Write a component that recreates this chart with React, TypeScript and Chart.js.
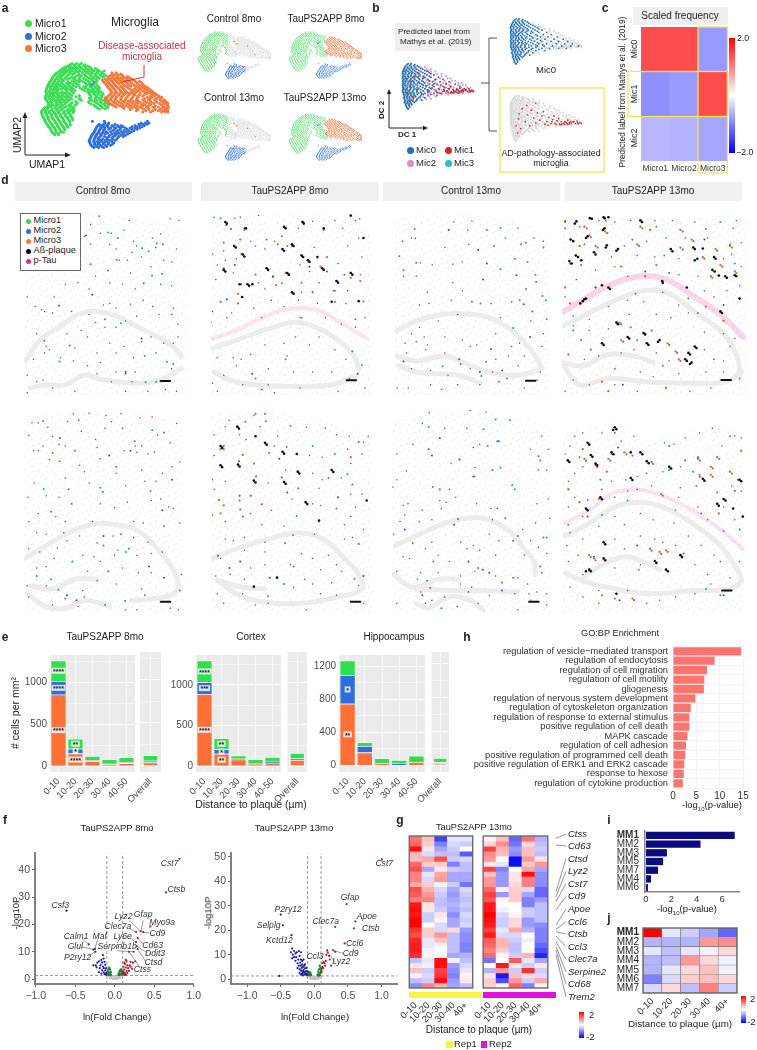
import React, { useEffect, useRef } from 'react';
import { Chart, registerables } from 'chart.js';

Chart.register(...registerables);
const FONT = '"Liberation Sans", Arial, sans-serif';
Chart.defaults.font.family = FONT;

/* ---------- panel a: UMAP embedding, rows are [y, x, x, ...] ---------- */
const micro1Rows = [
  [30,135,150,165],[38,120,130,145,158,172,185],[46,105,115,128,140,152,165,180,195,210],
  [54,95,108,120,135,148,160,176,190,205,222,238],[62,85,100,112,130,142,170,186,200,215,232],
  [70,78,92,104,120,150,165,178,195,210,228,242],[78,72,85,98,112,128,140,158,172,190,205,222],
  [86,68,80,95,108,135,150,165,185,200,215],[94,62,75,88,102,118,130,148,178,192,212],
  [102,58,70,85,98,112,125,140,158,180,200,215],[110,55,68,82,92,108,120,135,160,178,198,210,222],
  [118,52,65,78,90,118,132,145,175,192,205,220],[126,55,68,80,95,110,125,140,190,205,218,232],
  [134,52,65,78,92,105,120,135,158,195,212,228],[142,50,62,75,90,102,118,130,160,190,208,222,240],
  [150,55,70,85,98,112,125,165,198,215,232,248],[158,60,72,88,100,115,135,152,190,212,228,244],
  [166,62,75,90,105,125,145,205,225,240,252],[174,48,60,80,95,110,128,140,215,232,248],
  [182,40,52,68,85,100,118,132,142],[190,38,50,62,78,92,108,122,138],[198,40,55,70,85,100,115,130],
  [206,44,58,72,88,104,120,135],[214,48,62,78,92,108,125,138],[222,52,66,82,98,112,128],
  [230,58,72,88,102,118,130],[238,62,78,92,108,122],[246,68,82,96,112],[254,72,85,98,108],[262,80,92],
  [34,128,142,158,176],[42,112,125,136,150,162,178,192],[50,100,112,124,134,146,158,172,186,200,216],
  [58,90,104,116,128,142,154,168,182,198,214,230],[66,82,96,108,124,138,158,176,192,208,224,238],
  [74,74,88,100,116,134,146,160,184,200,216,234],[82,70,82,92,104,120,144,158,178,196,212],
  [90,64,78,90,102,124,142,158,172,190,208],[98,60,72,82,94,108,124,138,152,186,204],
  [106,56,66,78,88,104,116,130,148,172,192,208,220],[114,54,66,76,86,100,114,128,140,168,186,202,216],
  [122,52,62,74,86,104,118,136,184,198,212,226],[130,54,64,74,88,102,116,130,190,206,220,234],
  [138,50,60,72,84,98,112,126,148,196,214,230],[146,52,64,78,92,106,120,134,158,194,210,228,244],
  [154,56,68,82,94,108,122,146,188,206,224,240],[162,60,70,84,98,112,130,150,196,218,236,250],
  [170,56,68,84,100,116,134,210,228,244],[178,44,56,72,88,104,122,138,222,240],
  [186,38,50,62,76,92,110,126,140],[194,40,54,68,82,96,112,128],[202,42,56,70,84,98,114,130],
  [210,46,60,74,90,106,122,136],[218,50,64,80,96,110,128],[226,54,70,86,100,116],[234,60,74,90,106,120],
  [242,66,80,94,110],[250,70,84,100],[258,76,90],
];
const micro3Rows = [
  [60,262,275],[68,258,270,282,295],[76,250,262,276,290,305,318],[84,232,245,258,272,286,298,312,330],
  [92,238,250,265,280,292,308,322,340,355],[100,245,258,272,300,315,332,348,362],
  [108,250,265,280,295,312,345,360,375],[116,258,272,288,302,325,340,355,372,385],
  [124,262,278,295,310,322,338,368,382,395],[132,255,270,285,300,318,335,350,365,392,405],
  [140,245,262,275,292,310,328,345,375,390,410,420],[148,240,255,272,290,305,322,340,360,378,398,415,428],
  [156,250,268,285,302,320,338,352,372,388,405,425,436],[164,262,280,298,316,335,355,368,385,420,438],
  [172,275,295,315,332,350,372,392,410,428,442],[180,320,345,365,380,400,415,430,440],[188,360,385,420,432,440],
  [64,264,278,290],[72,252,266,280,298,312],[80,240,254,268,282,296,310,324],[88,234,248,262,276,290,304,318,336,350],
  [96,242,254,268,284,296,312,326,344,358],[104,248,262,276,290,306,322,338,354,368],[112,254,268,284,298,318,334,350,366,380],
  [120,260,274,290,306,330,346,362,376,390],[128,258,272,288,304,316,330,352,374,388,400],
  [136,250,264,280,296,312,330,344,360,384,398,412],[144,242,258,274,290,306,324,342,366,384,404,418],
  [152,246,262,278,296,314,330,346,366,384,402,420,432],[160,256,274,292,310,328,344,362,380,396,414,430,440],
  [168,268,288,306,324,342,360,378,400,424,440],[176,300,324,340,358,378,398,420,436],[184,340,370,392,410,426,438],
];
const micro2Rows = [
  [218,200,238,375],[224,240,252,355,368,380],[232,218,230,245,262,280,292,335,350,365],
  [240,212,228,240,258,275,290,305,320,335,350],[248,208,222,235,265,282,300,315,332],
  [256,204,218,232,248,270,285,300,318],[264,198,212,228,255,272,290,305],[272,194,208,220,245,262,280],
  [280,190,205,225,240,255,272],[288,192,208,222,238,252,268],[296,196,210,225,242,258],[304,205,220,236],
  [228,222,236,250,272,348,360,374],[236,214,226,236,250,268,284,298,326,342,358],[244,210,224,238,252,270,288,310,326,342],
  [252,206,220,234,244,258,276,292,308,324],[260,200,214,226,240,262,278,296,312],[268,196,210,224,238,252,268,284,298],
  [276,192,206,218,232,248,264,278],[284,190,204,216,230,246,262],[292,194,206,218,234,250,264],[300,200,214,230,246],
];
const ctrlMicro3Spots = [237,86,255,100,313,115,355,165];
const strayBlue = [205,90,200,96,195,100];

/* ---------- panel b: diffusion map ---------- */
const mic0Rows = [
  [45,130,140],[52,122,135,148,160],[60,118,130,142,155,172],[68,115,125,138,150,165,185],
  [76,112,122,135,145,160,178,200],[84,115,128,140,155,170,192,215],[92,112,122,132,145,160,185,205,230],
  [100,115,125,138,152,168,195,220,245],[108,112,122,132,148,165,180,210,235,265],
  [116,115,128,140,155,175,200,225,255,285],[124,112,122,135,150,170,190,215,245,270,300],
  [132,115,125,138,152,165,185,205,230,262,290,315],[140,112,122,132,145,160,180,200,222,250,280,310,335],
  [148,115,125,138,150,165,185,215,240,270,295],[156,118,128,140,152,172,195,225],
  [164,115,125,135,148,165,185],[172,120,130,142,158,175],[180,118,128,138,150],[188,122,132,142],[196,125,135],[203,130],
  [48,126,138,152],[56,120,128,140,152,166],[64,116,124,134,146,158,178],[72,113,120,130,142,155,172,192],
  [80,112,122,132,142,152,166,185,205],[88,113,120,130,138,150,165,180,200],[96,112,120,128,140,150,165,178],
  [104,113,120,128,136,145,158,175,200],[112,113,120,130,138,150,162,185],[120,112,120,128,136,146,160,180,210],
  [128,113,120,128,140,148,160,178,200],[136,113,120,128,136,148,158,172,195,218],[144,113,120,128,136,145,158,172,195],
  [152,115,122,130,138,148,160,180,205],[160,118,126,134,144,155,170],[168,118,128,136,146,160],[176,120,128,136,146,155],
  [184,122,130,140],[192,124,134],[200,128],
];
const mic1Pts = [340,140,332,138,325,142,318,137,312,141,305,138,298,142,290,136,285,141,278,135,272,143,265,132,258,140,250,128,245,142,238,120,232,135,225,145,215,115,208,130,200,105,195,140,188,122,180,95,175,150,168,112,160,135,150,90,145,160,138,125,130,150,135,175,165,78,195,70,140,108,220,100,255,115,270,125,300,130,310,135,330,133,345,140,280,145,295,137,305,143,262,145,248,135,235,148,335,143,320,135,300,145,290,144,275,146];
const mic2Rows = [
  [52,125],[60,150],[68,146,170],[56,170,185],[64,190,205],[72,205,220],[80,225,240,165],[88,170,240,255],[96,190,235,260,270],
  [104,130,190,215,250,275,285],[112,195,220,245,270,295,305],[120,155,195,230,265,295,310,320],[128,120,210,235,255,280,305,325,335],
  [136,190,215,240,265,290,320,340],[144,205,230,255,285,310,330,345],[148,160,200,228,255,280,310],[152,195,215,240,262],
  [160,180,200,220],[168,140,170,190,205],
];
const mic3Pts = [118,80,128,120,142,145,155,90,170,70,135,185,150,130,200,115,220,140,122,155,134,60,118,104,146,118,128,172];

/* ---------- panel c ---------- */
const scaledFreqCols = ['Micro1','Micro2','Micro3'];
const scaledFreq = [[1.4,1.4,-0.8],[-0.88,-0.8,1.4],[-0.56,-0.6,-0.7]];

/* ---------- panel d: spatial sections ---------- */
const r1c1Top = [60,150,85,125,200,112,330,110,470,125,570,170];
const r1c1Arch = [65,565,110,500,170,460,230,420,290,410,350,425,420,460,480,490,530,520,555,550];
const r1c1Low = [80,650,130,640,190,640,250,610,310,625,420,635,490,625,555,590];
const r1c1Green = [297,112,325,163,356,180,452,222,432,212,478,197,497,200,437,322,495,292,463,298,270,262,325,282,352,248,235,267,124,502,172,567,204,517,315,435,365,447,443,632,380,605,510,568,440,550,530,575,476,630,525,420];
const r1c1Blue = [255,172,275,358,170,392,430,495,380,600];
const r1c1Dim = [392,125,520,120,548,125,270,138,300,165,335,165,375,155,250,175,465,180,490,168,405,190,415,205,475,210,400,225,350,215,330,200,270,200,210,160,180,180,150,190,360,250,385,250,430,240,500,250,525,255,540,215,460,270,395,290,525,330,490,325,410,340,370,325,330,320,285,300,265,340,230,320,190,325,155,365,115,405,70,365,100,480,95,395,125,410,150,415,210,410,265,420,310,390,330,385,350,400,395,388,435,375,465,395,485,420,530,400,415,425,380,440,350,460,315,460,285,445,260,490,220,525,195,480,240,470,290,540,330,510,300,570,260,580,215,565,175,555,140,530,125,540,90,560,70,610,100,630,120,625,130,520,350,540,405,555,375,520,430,505,460,490,475,540,500,510,530,510,545,450,545,490,290,605,335,630,400,630,410,600,350,600,490,630,525,590,505,655,540,660,450,660,380,660,220,660,150,650,70,665];

const r1c2Top = [620,125,700,110,900,110,1050,115,1130,180];
const r1c2Arch = [625,525,700,500,800,465,880,445,950,460,1020,500,1070,550,1085,590];
const r1c2Low = [630,600,680,625,760,640,880,645,1000,640,1080,610];
const r1c2Tau = [625,495,700,470,770,435,850,405,950,405,1020,440,1110,495];
const r1c2Black = [693,205,720,232,795,275,735,325,750,325,710,325,875,350,860,290,875,200,845,215,905,235,925,250,955,240,970,275,1015,315,1060,290,1085,378,1100,180,850,145,908,130,975,150,1060,110,665,130,730,150,660,280,718,365,1000,380,698,210,725,238,800,280,740,330,880,355,865,295,880,205,850,220,910,240,930,255,975,280,1020,320,1065,295,855,150,912,135,670,135,665,285];
const r1c2Orange = [668,140,683,152,712,185,830,200,875,205,905,235,716,230,660,275,760,295,855,290,825,328,715,325,965,270,1015,315,1090,315,1060,305,985,240,925,250,705,385,650,380,705,355,975,155,910,130,1010,380,940,350];
const r1c2Green = [650,118,843,175,795,185,725,155,860,205,815,302,843,322,905,320,1040,295,1100,378,1075,435,905,430,1095,578,1065,535,760,620,855,560,780,655,660,195,1010,345];
const r1c2Blue = [725,150,815,300,1082,605,695,265,930,270,670,372,750,605,985,285];
const r1c2Dim = [630,115,695,118,712,115,770,110,1010,125,1075,125,1088,120,1035,150,940,128,895,150,820,190,745,190,660,220,625,230,1085,180,1050,205,1095,240,1020,260,945,210,790,215,760,205,700,245,665,250,640,265,930,285,900,265,1090,295,1005,345,1050,345,960,320,905,350,790,340,770,320,690,290,635,310,625,410,685,415,755,400,810,375,850,395,895,375,955,385,1045,385,1105,430,1075,460,1030,450,980,430,900,430,780,430,670,430,620,445,640,555,690,555,715,560,745,545,790,515,850,510,885,490,930,515,960,490,1010,530,1045,560,860,550,800,590,700,580,660,610,625,635,640,660,720,640,800,640,880,600,940,600,1000,600,1055,620,1105,650,1020,660,900,650,820,665];

const r1c3Top = [30,125,100,110,300,110,450,140,520,190];
const r1c3Arch = [40,470,100,440,180,420,260,418,330,430,400,470,460,530,495,585];
const r1c3Low = [40,550,100,565,190,550,260,575,330,600,420,610,495,590];
const r1c3Low2 = [45,580,100,600,170,605,240,612,300,635];
const r1c3Green = [95,152,57,190,47,237,60,280,322,155,365,148,345,205,430,200,445,195,500,210,410,245,450,255,365,278,475,295,477,318,445,340,497,362,425,375,465,410,508,375,510,435,405,462,320,568,183,582,240,575,305,612,360,630,385,620,275,380,302,385];
const r1c3Blue = [202,155,295,218,322,260,310,310,415,297,438,388,458,490,335,528,235,560,300,600,370,595,60,567];
const r1c3Orange = [100,258];
const r1c3Dim = [85,180,97,182,218,130,275,128,262,155,190,210,215,262,245,255,113,258,150,265,215,320,245,345,135,350,100,300,60,300,110,390,140,385,210,375,335,385,365,430,400,380,230,420,170,440,110,460,85,480,65,510,100,505,125,490,135,515,190,490,270,520,245,500,290,515,350,480,400,520,425,510,440,550,390,550,350,560,190,540,130,530,70,540,85,590,145,595,200,610,270,590,340,600,420,580,495,520,500,480,460,440,490,600,145,640,180,655,230,640,300,640,440,650,480,625,75,650,40,650,470,180,500,190,420,150,380,180,265,200];

const r1c4Top = [535,115,1110,115];
const r1c4Arch = [540,455,600,425,680,385,790,345,870,355,960,420,1040,480,1085,560,1090,610];
const r1c4Low = [540,570,600,580,680,545,760,550,820,570];
const r1c4Low2 = [540,580,590,640,680,620,800,630,950,635,1050,630,1095,600];
const r1c4Tau = [540,410,600,375,680,330,780,300,860,310,950,365,1030,420,1100,490];
const r1c4Black = [622,118,665,115,680,115,580,128,663,155,615,175,562,185,710,215,675,203,635,225,578,235,558,252,595,250,1010,240,1005,280,1045,300,1075,297,958,245,945,210,875,215,785,130,600,378,610,370,680,335,660,328,848,315,925,335,1030,410,790,478,740,490,705,445,930,540,950,520,940,570,840,500,800,510,660,510,920,560,1090,370,1025,298,975,213,628,120,668,118,575,135,610,180,668,150,570,190,705,220,672,210,640,232,585,240,565,260,1015,245,1012,285,1050,305,1080,300,950,250,950,215,880,222,780,125,605,372,592,385,685,340,850,320,1035,415,795,482,745,495,710,450,935,545,955,525,935,575,835,505,805,515,665,515,925,565];
const r1c4Orange = [605,145,670,160,620,172,780,145,770,200,905,155,940,185,905,210,1015,215,975,240,1030,265,1060,205,1075,285,1000,300,890,535,900,560,865,510,715,445,720,500,640,205,590,205,545,130,545,150,560,260,810,155,755,185,830,265,795,300,720,270,545,335,560,385,985,395,1040,440,595,500,625,530,815,470,555,545,680,660,860,650,750,460,660,630,612,150,676,165,625,178,786,150,776,205,912,160,946,190,912,216,1020,220,980,245,1036,270,1066,210,1080,290,1005,305,895,540,905,565,870,515,720,450,726,505,646,210];
const r1c4Green = [590,205,672,125,605,200,595,265,855,235,1060,200,985,152,1030,130,830,145,870,290,640,335,765,355,930,370,1075,260,700,590,960,415,570,470,1010,560,1090,620,850,580,770,500];
const r1c4Blue = [640,335,795,285,725,640,980,185,1040,390];
const r1c4Dim = [545,125,590,145,650,125,700,130,750,125,825,125,880,125,950,130,1080,125,1070,150,990,180,920,180,860,180,800,190,730,205,690,240,770,235,825,240,900,245,1040,245,1095,195,1065,230,1095,270,700,270,640,280,580,310,740,300,900,295,960,300,1090,330,1050,345,980,345,545,365,570,425,620,435,680,395,740,375,790,380,850,350,900,390,1010,365,570,455,620,470,680,465,745,420,830,420,875,430,930,415,980,475,1040,480,1075,495,605,560,650,550,720,540,760,530,830,540,870,565,980,530,1060,520,1040,565,570,625,620,640,700,640,780,600,820,615,900,605,985,600,1040,600,770,660,935,660,1000,650,545,660];

const r2c1Top = [62,70,90,35,250,25,430,30,560,60];
const r2c1Arch = [65,478,130,440,200,400,280,372,350,375,420,395,470,440,520,500,545,560,530,590,470,605,400,610];
const r2c1Low = [80,565,150,575,220,545,290,545];
const r2c1Low2 = [70,590,130,630,190,635,250,610,330,630];
const r2c1Green = [120,52,232,50,370,75,463,80,500,88,150,152,408,115,220,145,350,195,458,270,300,260,308,273,122,265,200,265,145,335,365,405,390,450,380,460,310,440,325,520,145,545,100,535,168,578,190,605,378,612,440,595,212,490,315,625,550,580,210,310,500,380];
const r2c1Blue = [173,105,328,160,525,235,495,330,310,410,453,505,500,540,195,595,225,610,395,145];
const r2c1Orange = [172,178];
const r2c1Dim = [85,58,105,58,215,30,265,28,318,35,365,30,425,42,463,40,540,60,75,97,135,72,150,100,197,55,240,85,315,75,335,55,480,95,410,130,430,130,520,120,190,130,170,125,120,130,105,145,90,145,140,172,285,110,290,135,375,145,415,150,450,155,470,150,550,180,300,170,235,190,250,210,350,215,430,205,495,215,525,195,190,230,265,245,380,255,440,240,475,240,92,245,72,290,130,285,170,290,385,305,460,300,490,295,515,320,530,325,300,310,345,322,105,340,160,350,190,365,75,365,405,365,435,370,550,370,275,365,100,400,130,405,185,400,235,410,340,410,290,432,405,415,450,430,75,450,110,460,165,448,195,425,245,470,280,475,345,470,355,455,415,470,460,465,495,460,100,510,130,505,155,480,260,520,300,490,370,510,420,525,460,525,555,530,70,565,75,600,130,565,245,580,290,550,350,560,430,575,250,600,150,625,230,630,380,640,415,640,520,635,545,640];

const r2c2Top = [620,30,780,22,960,50,1130,100];
const r2c2Arch = [625,480,700,450,800,420,900,400,980,425,1040,480,1085,530,1095,575,1020,600,900,620,780,615,700,590,640,548];
const r2c2Low = [640,548,720,570,790,575];
const r2c2Black = [703,70,790,120,845,148,893,210,850,242,755,238,650,130,650,190,705,188,918,305,1110,300,1000,205,960,362,828,540,755,568,890,155,760,100,708,76,795,126,850,154,898,216,855,248,760,244,655,136,655,196,710,194,923,311,1005,211];
const r2c2Orange = [660,140,720,158,755,185,762,225,895,212,990,230,710,285,745,285,645,298,660,315,710,300,780,312,895,262,1060,165,1085,118,960,365,650,340,660,130,720,350,650,140,790,30,760,30,1085,435];
const r2c2Green = [728,55,793,53,858,133,803,152,940,130,1010,155,870,68,1050,218,1065,250,1015,325,712,328,878,408,853,432,850,560,890,348,880,505,1072,543,800,598];
const r2c2Blue = [703,70,708,178,843,228,860,275,1020,290,642,472,678,510,712,490,805,540,835,170,1100,535];
const r2c2Dim = [630,95,665,70,677,50,755,35,775,70,920,72,980,75,1015,95,1055,100,1115,100,1100,118,1050,140,1095,155,710,95,730,110,830,100,820,130,930,160,970,165,1060,185,630,160,625,235,665,240,630,265,800,245,855,205,940,215,970,235,1030,230,1095,280,1060,280,960,262,875,295,810,330,745,340,665,365,625,345,940,310,965,315,1075,320,1060,350,1040,375,780,375,850,380,1040,420,1100,390,665,420,690,425,725,415,790,430,945,405,1065,415,650,480,725,455,790,460,905,465,940,480,990,470,1015,500,1030,520,870,500,745,510,635,535,680,530,725,545,790,500,965,515,915,545,880,570,940,560,1000,555,640,590,660,620,720,590,800,620,965,590,1015,595,1085,565,920,640,1100,620,760,625];

const r2c3Top = [25,60,100,30,300,25,450,50,525,75];
const r2c3Arch = [35,440,100,410,180,375,260,355,330,360,400,400,440,450,470,490,475,530];
const r2c3Low = [30,530,90,570,170,545,230,545];
const r2c3Low2 = [100,575,200,580,300,580,420,585];
const r2c3Low3 = [100,620,140,635,200,600,270,610,310,640];
const r2c3Green = [140,70,312,78,350,48,395,50,355,115,325,130,340,205,365,198,153,258,402,252,410,265,485,162,490,175,500,415,510,415,490,505,495,525,295,510,155,490,135,550,265,585,370,555,405,540,180,635,90,432,380,355,420,410,405,425];
const r2c3Blue = [175,105,140,140,150,160,237,172,280,225,360,115,330,525,310,515,65,390,220,375,265,490,120,595,370,580];
const r2c3Orange = [175,265,145,572,232,358];
const r2c3Dim = [142,27,120,60,190,75,270,20,320,25,260,75,300,125,280,135,90,125,40,155,210,185,70,208,510,205,485,205,40,235,285,197,515,140,495,100,460,140,28,258,205,265,285,225,225,290,175,300,195,305,75,310,60,315,120,330,180,325,290,310,335,325,355,325,480,310,515,295,65,345,50,365,110,365,150,360,340,360,435,390,475,370,520,355,30,405,150,430,240,430,280,440,330,405,360,425,460,425,485,445,510,465,130,450,60,475,80,480,170,470,260,450,300,455,350,470,440,470,40,520,115,525,105,545,170,525,205,490,240,535,285,520,350,535,420,540,450,560,115,585,190,600,240,560,275,570,330,595,410,590,455,590,480,585,460,610,510,625,510,590,130,620,150,610,40,620,230,630,295,620,420,640];

const r2c4Top = [535,90,640,70,700,60,800,110,900,100,1000,70,1105,95];
const r2c4Arch = [545,410,620,370,700,320,770,305,850,320,940,370,1030,440,1085,520,1095,550,1060,575,950,580,800,590,680,570,600,550,545,525];
const r2c4Low = [600,540,680,490,740,475,800,495,840,515];
const r2c4Tau = [545,370,620,330,700,275,770,265,850,285,950,335,1030,390,1100,450];
const r2c4Black = [700,72,695,80,615,120,625,158,553,175,690,150,780,150,640,185,800,178,870,195,1090,235,975,232,1020,310,1040,295,610,325,655,290,665,430,825,488,665,480,620,515,610,520,905,470,860,515,750,230,750,150,1100,350,705,590,1070,325,705,78,620,126,630,164,558,180,696,156,786,156,645,190,806,184,876,200,1095,240,980,238,1025,316,1046,300,615,330,660,296,670,436,830,494,670,486,625,520,910,476,866,520,755,236];
const r2c4Orange = [590,305,605,170,640,190,680,170,730,150,755,160,815,180,675,210,960,170,1000,195,1020,165,1060,210,1095,145,1075,270,920,175,965,220,1000,220,555,265,650,295,845,280,915,465,860,455,840,460,810,450,635,480,620,470,760,610,660,595,755,605,700,605,1025,340,600,140,610,176,645,196,686,176,736,156,820,186,966,176,1006,200,1026,170,1066,216,966,226,1006,226,865,460,845,466,815,456,640,486,625,476];
const r2c4Green = [700,90,690,155,655,235,590,165,555,265,870,205,955,255,945,210,1020,275,1090,390,740,300,660,345,555,375,775,515,1030,595,985,575,870,130,1060,100];
const r2c4Blue = [710,135,960,165,1085,235,770,440,635,475,715,610,1040,595,615,350];
const r2c4Pink = [615,298,660,265,770,265,850,285,970,340,1040,395];
const r2c4Dim = [575,100,600,90,660,90,760,100,920,105,965,90,1005,75,1075,98,1095,105,560,130,545,155,720,115,855,120,885,125,1035,130,575,215,600,195,735,235,800,215,850,210,905,195,770,225,555,240,690,240,815,255,905,260,1065,255,1095,270,575,290,700,290,740,270,900,290,555,320,600,350,780,340,890,330,960,320,1040,320,1075,360,560,400,600,420,650,380,700,350,730,375,820,360,885,370,930,410,990,360,550,440,585,470,700,420,730,450,780,410,825,420,850,430,890,440,970,440,1010,470,1030,490,1090,490,555,490,600,530,700,510,780,500,950,500,990,530,1060,540,600,600,560,570,650,620,840,610,890,600,950,590,1000,560,740,580,800,620,650,580];

/* ---------- panel e ---------- */
const distCats = ['0-10','10-20','20-30','30-40','40-50'];
const overallCat = ['Overall'];
const e1Orange = [852,150,60,25,35];  const e1Blue = [163,58,10,10,10];  const e1Green = [245,117,50,45,60];
const e1Overall = [40,20,65];
const e2Orange = [888,152,80,30,40];  const e2Blue = [144,56,10,10,15];  const e2Green = [268,136,42,45,57];
const e2Overall = [70,20,65];
const e3Orange = [745,157,25,5,40];   const e3Blue = [345,78,5,25,0];    const e3Green = [177,43,55,35,75];
const e3Overall = [20,15,50];
const e1Stars = [['****','****'],['****','*'],['****','**']];
const e2Stars = [['****','**'],['***','*'],['****','**']];
const e3Stars = [['**'],['*'],[]];

/* ---------- panel f ---------- */
const f1Blue = [-.61,25,-.33,12.7,-.25,11,-.27,10.8,-.245,10,-.15,8.8,-.17,7,-.14,7.5,-.2,6.5,-.22,6,-.13,6.3,-.16,6,-.24,5,-.27,5,-.18,5,-.12,5.2,-.15,4.6,-.23,4.3,-.19,4,-.14,4,-.11,4,-.16,3.2,-.12,3.2,-.2,2.5,-.14,2.5,-.11,2.2,-.17,2,-.13,1.8,-.11,1.6];
const f1Red = [.82,44,.65,31.7,.45,19.2,.33,17.5,.36,17.2,.27,17.2,.29,15,.27,13.5,.28,12,.29,11,.18,10,.24,10,.12,6,.14,7,.15,6.5,.2,6.3,.23,6,.26,6.5,.13,5.5,.16,5,.19,5,.11,4.5,.14,4.2,.17,4,.2,4.5,.22,3.8,.12,3.5,.15,3,.18,3,.11,2.7,.13,2.2,.16,2.2,.11,1.9,.14,1.6,.12,1.5];
const f1Green = [.05,2,.06,2.7,.07,3.2,.08,3.5,.09,3,.1,2.5,.08,2,.06,1.6,.05,1.5,.09,1.7,-.05,2.5,-.06,3.5,-.07,4.2,-.08,3.5,-.09,2.8,-.07,2.3,-.06,1.7,-.08,1.6,-.09,2,-.05,1.5];
const f2Blue = [-.5,26.4,-.47,22,-.34,18,-.52,1.3,-.35,11,-.33,12.5,-.32,10,-.3,11.5,-.28,10.5,-.26,11,-.23,11.5,-.3,9,-.33,8.5,-.27,9,-.2,11,-.22,9.5,-.24,8,-.28,7.5,-.2,8,-.25,6.5,-.21,6.8,-.18,7.5,-.16,8,-.23,5.5,-.2,5.5,-.18,6,-.25,4.5,-.22,4,-.19,4.5,-.17,5,-.15,5.5,-.14,6,-.2,3.5,-.18,3.2,-.16,3.8,-.14,4.4,-.12,4.6,-.22,2.5,-.19,2.2,-.17,2.5,-.15,2.8,-.13,3.2,-.11,3.3,-.2,1.8,-.17,1.6,-.14,1.8,-.12,2,-.11,1.6,-.16,3,-.13,2.4];
const f2Red = [1.005,49,.48,30.7,.61,23.6,.59,20.8,.31,21.4,.45,14.6,.31,11.2,.28,11.8,.19,11.8,.2,11,.18,10,.22,9.5,.23,8,.25,5.5,.14,7,.12,6.5,.15,6.5,.17,7.5,.16,5.5,.12,5,.13,4.5,.11,4.2,.11,3];
const f2Green = [.06,3,.07,4,.08,5.5,.09,4.5,.1,3.5,.05,1.8,.07,2,.09,2.5,.06,1.5,.08,1.6,-.05,1.8,-.06,2.5,-.07,2.8,-.08,2.2,-.09,1.7,-.06,1.6,-.09,3,-.1,2.4];
const volcanoGrey = [0,.2,.02,.4,-.02,.5,.03,.2,-.03,.2,.04,.7,-.04,.8,.01,.8,-.01,.9,.05,1,-.05,.9,.06,.3,-.06,.4,.07,.8,-.07,1,.02,0,-.02,0];
const f1Genes = [
  { t:'Cst7',x:.695,y:42.3 },{ t:'Ctsb',x:.78,y:32.9 },{ t:'Csf3',x:-.69,y:27 },{ t:'Myo9a',x:.6,y:20.6,lx:.49,ly:20,tx:.45,ty:19.2 },
  { t:'Gfap',x:.36,y:23.5,lx:.36,ly:21.5,tx:.33,ty:17.5 },{ t:'Lyz2',x:.11,y:22.9,lx:.19,ly:21.5,tx:.32,ty:17.5 },{ t:'Clec7a',x:.04,y:19.2,lx:.19,ly:18.5,tx:.27,ty:17.2 },
  { t:'Cd9',x:.54,y:16.7,lx:.44,ly:16.9,tx:.36,ty:17.2 },{ t:'Ly6e',x:.1,y:15.5,lx:.19,ly:15.2,tx:.27,ty:13.5 },{ t:'Cd63',x:.48,y:12.4,lx:.36,ly:12.8,tx:.29,ty:15 },
  { t:'Serpinb1b',x:.03,y:12,lx:.02,ly:10.4,tx:.24,ty:10 },{ t:'Ddit3',x:.51,y:9.4,lx:.41,ly:9.6,tx:.28,ty:12 },{ t:'Ctsd',x:.49,y:6.2,lx:.39,ly:6.5,tx:.29,ty:11 },
  { t:'Ctss',x:.35,y:3.5,lx:.31,ly:4.6,tx:.18,ty:10 },{ t:'Calm1',x:-.49,y:15.7,lx:-.4,ly:14.4,tx:-.33,ty:12.7 },{ t:'Maf',x:-.19,y:15.7,lx:-.22,ly:14.5,tx:-.25,ty:11 },
  { t:'Glul',x:-.5,y:11.9,lx:-.42,ly:11.8,tx:-.27,ty:10.8 },{ t:'P2ry12',x:-.47,y:8,lx:-.34,ly:8.4,tx:-.245,ty:10 },
];
const f2Genes = [
  { t:'Cst7',x:1.04,y:47.4 },{ t:'Gfap',x:.53,y:33.3 },{ t:'Apoe',x:.78,y:25.6 },{ t:'Ctsb',x:.84,y:20.7 },{ t:'Clec7a',x:.17,y:23.7 },
  { t:'Ccl6',x:.6,y:14.6 },{ t:'Cd9',x:.54,y:10.3,lx:.43,ly:10.5,tx:.28,ty:11.8 },{ t:'Lyz2',x:.4,y:7.2,lx:.3,ly:7.2,tx:.2,ty:11 },
  { t:'Ccl3',x:.01,y:9.2,lx:.11,ly:8,tx:.14,ty:7 },{ t:'P2ry12',x:-.39,y:28.6 },{ t:'Selplg',x:-.68,y:22 },{ t:'Kctd12',x:-.52,y:15.7 },
];

/* ---------- panel g ---------- */
const plaqueCats = ['0-10','10-20','20-30','30-40','40+'];
const gRep1 = [
  [1.1,.5,-1.5,-.2,-.2],[1.2,.4,-1,-.3,-.4],[1.9,.2,-.7,-.4,0],[.6,-.3,-.5,-.5,-1.3],[.5,.7,1.4,-.4,-.3],
  [1.2,.4,.4,-1,-.5],[1.4,-.7,.2,-.4,-.5],[1,-.2,.7,-.7,-.7],[1,-.3,.8,-.7,-.7],[.7,.4,.1,-.4,-1.1],
  [1.4,.6,-.3,-.7,-.3],[1.3,.8,-.4,-.8,-.4],[1,1,-.5,-.7,-.5],[1.8,.2,-.5,-.6,-.4],[1.9,.2,-.4,-.7,-.5],
  [1.8,-.4,.2,-.9,-.3],[2,-.4,.1,-.7,-.4],[2,0,-.3,-.7,-.3],[1.6,.4,-.3,.3,-.8],[1.4,.4,.8,-.5,-.9],
  [1.7,-.2,.5,-.5,-.9],[1.8,-.2,.1,-.5,-1],[1.8,-.1,0,-.5,-1],[1.6,.1,0,-.7,-.6],[-.5,-.2,1.9,-.1,-.5],
  [-.2,-.1,1.9,-.8,-.3],[.5,-.4,1.5,-.9,-.2],[-.1,-.3,1.6,-1,.1],[-.5,-.4,1.9,-.8,.2],[-.9,1,.6,-.7,-.5],
];
const gRep2 = [
  [.1,.5,-1.2,1.1,-.6],[.3,.9,-1.1,.3,-.5],[1.5,.6,-.8,.5,-.4],[.9,.5,-.9,.5,-.5],[.8,0,-1.9,.8,.2],
  [.2,-.2,-1.9,.4,.8],[1.5,-1,0,.7,-.7],[.5,-.8,.2,1.9,-.9],[.8,-.8,.2,1,-.9],[.8,-.8,.3,1,-.9],
  [1.2,.1,.4,-.3,-1.2],[1.5,-.8,.4,-.7,-1.2],[1.3,.1,.4,-1,-.8],[1.8,0,0,-1,-.5],[1.8,-.1,0,-.4,-.5],
  [2,-.3,.1,-.4,-.5],[1.9,-.4,.3,-.8,-.5],[1.8,-.4,.3,-.8,-.9],[1.5,-.2,.7,-.6,-1],[1.8,-.3,-.3,0,-1],
  [1.3,.6,-.4,-.1,-1],[1.2,.6,-.5,0,-1.2],[1,.4,-.5,0,-1.4],[1.2,.1,-.4,.6,-1.7],[-1.1,0,1.3,-.2,-.7],
  [0,1.8,.2,-.4,.2],[-.6,.8,-.4,1.6,-.4],[.2,-1.8,.5,.3,-.3],[.4,-1.4,.8,-.4,.7],[.4,.1,1.2,-1,-.1],
];
const gGenes = ['Ctss','Cd63','Ctsd','Lyz2','Cst7','Cd9','Apoe','Ccl6','Ctsb','Ccl3','Clec7a','Serpine2','Cd68','Trem2'];
const gGeneFrom = [85,105,245,260,275,300,345,358,365,378,395,410,420,435];
const gGeneTo = [72,108,146,184,221,259,297,335,372,410,448,486,523,561];

/* ---------- panel h ---------- */
const goTerms = ['regulation of vesicle−mediated transport','regulation of endocytosis','regulation of cell migration','regulation of cell motility','gliogenesis','regulation of nervous system development','regulation of cytoskeleton organization','regulation of response to external stimulus','positive regulation of cell death','MAPK cascade','regulation of cell adhesion','positive regulation of programmed cell death','positive regulation of ERK1 and ERK2 cascade','response to hexose','regulation of cytokine production'];
const goValues = [14.6,8.9,7.3,6.7,6.6,4.8,3.8,3.5,3.5,3.1,2.8,2.6,2.4,2.3,2.1];

/* ---------- panels i, j ---------- */
const mmOrder = ['MM1','MM2','MM3','MM5','MM7','MM4','MM6'];
const mmValues = [7,4.3,1.65,1.35,.95,.4,.15];
const mmRows = ['MM1','MM2','MM3','MM4','MM5','MM6','MM7'];
const mmHeat = [[2,-.2,-.4,-.7,-1.2],[-.6,-.6,-.6,.8,.9],[-.2,-.5,-.2,-.1,.3],[-.6,-.5,.8,.3,-.1],[-.6,-.2,.3,.5,-.1],[-1,-.3,.4,.5,.3],[-.3,.3,-.5,1,-.4]];

/* ---------- helpers ---------- */
type P = { x:number; y:number };
const pairs = (f:number[]):P[] => { const o:P[]=[]; for (let i=0;i<f.length;i+=2) o.push({x:f[i],y:f[i+1]}); return o; };
const fromRows = (rows:number[][]):P[] => rows.flatMap(r => r.slice(1).map(x => ({x,y:r[0]})));
const micro1 = fromRows(micro1Rows), micro2 = fromRows(micro2Rows), micro3 = fromRows(micro3Rows);
const mic0 = fromRows(mic0Rows), mic1 = pairs(mic1Pts), mic2 = fromRows(mic2Rows), mic3 = pairs(mic3Pts);

const UG='#3ddc55', UB='#2f6fdc', UO='#f5783c';
const dot = (data:P[],c:string,r:number) => ({data,backgroundColor:c,pointRadius:r,pointBorderWidth:0,showLine:false});
const band = (f:number[],c:string,w:number,t=.4) => ({data:pairs(f),showLine:true,borderColor:c,borderWidth:w,pointRadius:0,tension:t,backgroundColor:'transparent',borderCapStyle:'round'});
const heatColor = (v:number) => {
  const t=Math.min(1,Math.abs(v)/2), k=Math.round(255*(1-t));
  return v>=0 ? `rgb(255,${k},${k})` : `rgb(${k},${k},255)`;
};
const base = (extra:any={}) => ({
  responsive:false, maintainAspectRatio:false, animation:false, events:[],
  layout:{padding:{top:6,right:6,left:0,bottom:0}},
  ...extra,
  plugins:{legend:{display:false},tooltip:{enabled:false},...(extra.plugins||{})},
});
const plainScatter = (x0:number,x1:number,y0:number,y1:number,ds:any[]) => ({
  type:'scatter',
  data:{datasets:ds.map((d,i)=>({...d,order:-i}))},
  options:{...base(),layout:{padding:0},scales:{
    x:{display:false,min:x0,max:x1},
    y:{display:false,reverse:true,min:y0,max:y1},
  }},
});

Chart.register(
  { id:'panelBg', beforeDraw(c:any,_:any,o:any){ if(!o.color) return; const a=c.chartArea; c.ctx.save(); c.ctx.fillStyle=o.color; c.ctx.fillRect(a.left,a.top,a.width,a.height); c.ctx.restore(); } },
  { id:'frame', afterDatasetsDraw(c:any,_:any,o:any){ if(!o.color) return; const a=c.chartArea; c.ctx.save(); c.ctx.strokeStyle=o.color; c.ctx.lineWidth=o.width||1; c.ctx.strokeRect(a.left,a.top,a.width,a.height); c.ctx.restore(); } },
  { id:'stars', afterDatasetsDraw(c:any,_:any,o:any){
      if(!o.labels) return; const x=c.ctx; x.save(); x.font=`bold 7px ${FONT}`; x.textAlign='center'; x.textBaseline='middle';
      o.labels.forEach((l:string[],d:number)=>l.forEach((s:string,i:number)=>{
        if(!s) return; const el=c.getDatasetMeta(d).data[i]; const cy=(el.y+el.base)/2; const w=x.measureText(s).width+3;
        x.fillStyle='rgba(255,255,255,.8)'; x.fillRect(el.x-w/2,cy-3,w,6);
        x.fillStyle='#222'; x.fillText(s,el.x,cy+1.4);
      }));
      x.restore();
  } },
  { id:'geneLabels', afterDatasetsDraw(c:any,_:any,o:any){
      if(!o.items) return; const x=c.ctx, sx=c.scales.x, sy=c.scales.y; x.save();
      x.font=`italic 8.6px ${FONT}`; x.textAlign='center'; x.textBaseline='middle';
      o.items.forEach((g:any)=>{
        if(g.tx!==undefined){ x.strokeStyle='#555'; x.lineWidth=.6; x.beginPath(); x.moveTo(sx.getPixelForValue(g.lx),sy.getPixelForValue(g.ly)); x.lineTo(sx.getPixelForValue(g.tx),sy.getPixelForValue(g.ty)); x.stroke(); }
        x.fillStyle='#333'; x.fillText(g.t,sx.getPixelForValue(g.x),sy.getPixelForValue(g.y));
      });
      x.restore();
  } },
);

const FIX = (n:number) => (s:any)=>{s.width=n;};
const FIXH = (n:number) => (s:any)=>{s.height=n;};

/* a plot placed so its chart area lands on a known rectangle of the page */
const area = (l:number,t:number,w:number,h:number,yW:number,xH:number) => ({l:l-yW,t:t-6,w:yW+w+6,h:6+h+xH});

const heat = (matrix:number[][],cols:string[],opt:any) => ({
  type:'bar',
  data:{labels:cols,datasets:matrix.map(r=>({data:r.map(()=>1),backgroundColor:r.map(heatColor),borderColor:opt.cell||'transparent',borderWidth:opt.cell?.6:0,barPercentage:1,categoryPercentage:1}))},
  options:base({
    plugins:{frame:{color:opt.frame,width:1.4}},
    scales:{
      x:{stacked:true,grid:{display:false,drawTicks:false},border:{display:false},afterFit:FIXH(opt.xH),
         ticks:{autoSkip:false,color:'#333',padding:opt.pad,font:{size:opt.font},minRotation:opt.rot,maxRotation:opt.rot}},
      y:{stacked:true,reverse:true,min:0,max:matrix.length,grid:{display:false,drawTicks:false},border:{display:false},afterFit:FIX(opt.yW),
         afterBuildTicks:(s:any)=>{s.ticks=matrix.map((_,i)=>({value:i+.5}));},
         ticks:{autoSkip:false,display:!!opt.rows,padding:4,color:'#222',callback:(_:any,i:number)=>opt.rows?opt.rows[i]:'',font:(c:any)=>({size:10,weight:c.index===0?'bold':'normal'})}},
    },
  }),
});

const stack = (cats:string[],o:number[],b:number[],g:number[],ymin:number,ymax:number,ticks:number[],major:number[],labels:string[][]|null,yW:number,showY:boolean,barP:number) => ({
  type:'bar',
  data:{labels:cats,datasets:[
    {data:o,backgroundColor:'#ff7038'},{data:b,backgroundColor:'#2d6fe0'},{data:g,backgroundColor:'#30de50'},
  ].map(d=>({...d,borderColor:'#fff',borderWidth:.7,barPercentage:barP,categoryPercentage:1}))},
  options:base({
    plugins:{panelBg:{color:'#ebebeb'},stars:{labels}},
    scales:{
      x:{stacked:true,border:{display:false},grid:{offset:false,color:'#fff',lineWidth:.7,drawTicks:false},afterFit:FIXH(45),
         ticks:{autoSkip:false,color:'#4d4d4d',padding:4,font:{size:9.5},minRotation:45,maxRotation:45}},
      y:{stacked:true,min:ymin,max:ymax,border:{display:false},afterFit:FIX(yW),
         grid:{color:'#fff',drawTicks:false,lineWidth:(c:any)=>c.tick&&major.includes(c.tick.value)?1:.5},
         afterBuildTicks:(s:any)=>{s.ticks=ticks.map(value=>({value}));},
         ticks:{display:showY,autoSkip:false,padding:3,color:'#4d4d4d',font:{size:10},callback:(v:number)=>major.includes(v)?String(v):''}},
    },
  }),
});

const volcano = (red:number[],blue:number[],green:number[],genes:any[],x0:number,x1:number,y0:number,y1:number,yTicks:number[]) => {
  const guide=(data:P[])=>({data,showLine:true,borderColor:'#8a8a8a',borderWidth:.9,borderDash:[3,2],pointRadius:0,tension:0});
  const ds=[
    guide([{x:-.1,y:y0},{x:-.1,y:y1}]),guide([{x:.1,y:y0},{x:.1,y:y1}]),guide([{x:x0,y:1.3},{x:x1,y:1.3}]),
    dot(pairs(volcanoGrey),'#c4c4c4',1.3),dot(pairs(green),'#1c7d2d',1.2),dot(pairs(blue),'#1d1d96',1.1),dot(pairs(red),'#a41c2a',1.1),
  ];
  const axis={border:{display:true,color:'#808080',width:2},grid:{drawOnChartArea:false,tickLength:3,tickColor:'#666'}};
  return {
    type:'scatter',
    data:{datasets:ds.map((d,i)=>({...d,order:-i}))},
    options:base({
      plugins:{geneLabels:{items:genes}},
      scales:{
        x:{...axis,min:x0,max:x1,afterFit:FIXH(20),afterBuildTicks:(s:any)=>{s.ticks=[-1,-.5,0,.5,1].map(value=>({value}));},
           ticks:{autoSkip:false,maxRotation:0,padding:3,color:'#4d4d4d',font:{size:10.5},callback:(v:number)=>v.toFixed(1).replace('-','−')}},
        y:{...axis,min:y0,max:y1,afterFit:FIX(25),afterBuildTicks:(s:any)=>{s.ticks=yTicks.map(value=>({value}));},
           ticks:{autoSkip:false,padding:2,color:'#4d4d4d',font:{size:10.5}}},
      },
    }),
  };
};

const hbar = (labels:string[],values:number[],color:string,x1:number,x0:number,xT:number[],opt:any) => ({
  type:'bar',
  data:{labels,datasets:[{data:values,backgroundColor:color,barPercentage:opt.bar,categoryPercentage:1}]},
  options:base({
    indexAxis:'y',
    scales:{
      x:{min:x0,max:x1,afterFit:FIXH(opt.xH),border:opt.axis?{display:true,color:'#888',width:1.5}:{display:false},grid:opt.axis?{display:false,drawTicks:false}:{color:'#f1f1f1',drawTicks:false},
         afterBuildTicks:(s:any)=>{s.ticks=xT.map(value=>({value}));},ticks:{autoSkip:false,maxRotation:0,padding:2,color:'#333',font:{size:opt.tick}}},
      y:{afterFit:FIX(opt.yW),border:opt.axis?{display:true,color:'#888',width:1.5}:{display:false},grid:opt.axis?{display:false,drawTicks:false}:{color:'#f1f1f1',drawTicks:false},
         ticks:{autoSkip:false,padding:opt.pad,color:'#333',font:opt.axis?(c:any)=>({size:10,weight:c.index===0?'bold':'normal'}):{size:opt.font}}},
    },
  }),
});

/* stipple texture for tissue background */
const stippleDots = [1,1,5,0,9,3,3,5,7,6,0,8,11,9,5,11,12,1];
let stipple:any=null;
const tissueFill = () => {
  if(stipple) return stipple;
  const t=document.createElement('canvas'); t.width=13; t.height=13;
  const x=t.getContext('2d')!; x.fillStyle='#efefef';
  for(let i=0;i<stippleDots.length;i+=2) x.fillRect(stippleDots[i],stippleDots[i+1],1.5,1.5);
  stipple=x.createPattern(t,'repeat'); return stipple;
};

const section = (x0:number,x1:number,y0:number,y1:number,p:any) => () => {
  const tissue={data:pairs(p.top),showLine:true,borderWidth:0,borderColor:'transparent',pointRadius:0,tension:.3,backgroundColor:tissueFill(),fill:{target:{value:y1}}};
  const ds:any[]=[tissue];
  (p.bands||[]).forEach((b:number[])=>ds.push(band(b,'#ececec',p.bw||5)));
  if(p.tau) ds.push(band(p.tau,p.tauColor||'rgba(240,170,210,.3)',p.tauW||4));
  ds.push(band(p.bar,'#111',2,0));
  if(p.dim) ds.push(dot(pairs(p.dim),'#4c5a58',.75));
  if(p.pink) ds.push(dot(pairs(p.pink),'#e0279a',.9));
  if(p.green) ds.push(dot(pairs(p.green),'#2aa84a',1));
  if(p.blue) ds.push(dot(pairs(p.blue),'#2a55b8',1));
  if(p.orange) ds.push(dot(pairs(p.orange),'#c9693a',1.15));
  if(p.black) ds.push(dot(pairs(p.black),'#0d0d0d',1.3));
  return plainScatter(x0,x1,y0,y1,ds);
};

function Plot({box,make}:{box:{l:number,t:number,w:number,h:number},make:()=>any}) {
  const ref=useRef<HTMLCanvasElement>(null);
  useEffect(()=>{ const c=new Chart(ref.current as any,make()); return ()=>c.destroy(); },[]);
  return <canvas ref={ref} width={Math.round(box.w)} height={Math.round(box.h)} style={{position:'absolute',left:box.l,top:box.t,width:Math.round(box.w),height:Math.round(box.h)}}/>;
}

function T({x,y,s=10,c='#222',r=0,b=false,i=false,a='center',children}:any) {
  const tx=a==='center'?'-50%':a==='right'?'-100%':'0';
  return <div style={{position:'absolute',left:x,top:y,fontSize:s,color:c,fontWeight:b?'bold':'normal',fontStyle:i?'italic':'normal',whiteSpace:'nowrap',lineHeight:1,transform:`translate(${tx},-50%) rotate(${r}deg)`,fontFamily:FONT}}>{children}</div>;
}
const Box = ({x0,x1,y0,y1,bg}:any) => <div style={{position:'absolute',left:x0,top:y0,width:x1-x0,height:y1-y0,background:bg}}/>;
const Bar3 = ({x,y,w,h}:any) => <div style={{position:'absolute',left:x,top:y,width:w,height:h,background:'linear-gradient(to bottom,#f00,#fff,#00f)'}}/>;
const Dot = ({x,y,c,d=7}:any) => <div style={{position:'absolute',left:x-d/2,top:y-d/2,width:d,height:d,borderRadius:'50%',background:c}}/>;

const umapX0=30,umapX1=450,umapY0=25,umapY1=315;
const smallUmap = (ctrl:boolean) => () => {
  const r=.55;
  const ds = ctrl ? [
    dot([...micro3,...micro1.filter(p=>p.x>200),...micro2.filter(p=>p.x>300)],'#d6d6d6',r),
    dot(micro1.filter(p=>p.x<=200),'#5fdc73',r),
    dot(micro2.filter(p=>p.x<=300),UB,r),
    dot(pairs(ctrlMicro3Spots),UO,.7),
  ] : [ dot(micro1,'#67e07a',r), dot(micro3,UO,r), dot(micro2,'#4d86e4',r), dot(pairs(strayBlue),UB,r) ];
  return plainScatter(umapX0,umapX1,umapY0,umapY1,ds);
};
const smallBox = (l:number,t:number) => ({l,t,w:83,h:57});
const cone = (ds:any[]) => plainScatter(100,360,35,210,ds);

const sectionPanels:any[] = [
  {box:{l:20,t:210,w:170,h:190},z:[60,570,105,675],p:{top:r1c1Top,bands:[r1c1Arch,r1c1Low],bar:[490,628,520,628],dim:r1c1Dim,green:r1c1Green,blue:r1c1Blue}},
  {box:{l:207,t:210,w:170,h:190},z:[620,1130,105,675],p:{top:r1c2Top,bands:[r1c2Arch,r1c2Low],tau:r1c2Tau,bar:[1047,626,1077,626],dim:r1c2Dim,green:r1c2Green,blue:r1c2Blue,orange:r1c2Orange,black:r1c2Black}},
  {box:{l:390,t:210,w:167,h:190},z:[30,530,105,675],p:{top:r1c3Top,bands:[r1c3Arch,r1c3Low,r1c3Low2],bar:[445,627,475,627],dim:r1c3Dim,green:r1c3Green,blue:r1c3Blue,orange:r1c3Orange}},
  {box:{l:558,t:210,w:192,h:190},z:[535,1110,105,675],p:{top:r1c4Top,bands:[r1c4Arch,r1c4Low,r1c4Low2],tau:r1c4Tau,tauColor:'rgba(235,120,185,.3)',tauW:6,bar:[1033,625,1063,625],dim:r1c4Dim,green:r1c4Green,blue:r1c4Blue,orange:r1c4Orange,black:r1c4Black}},
  {box:{l:20,t:405,w:167,h:212},z:[60,560,15,650],p:{top:r2c1Top,bands:[r2c1Arch,r2c1Low,r2c1Low2],bar:[490,615,520,615],dim:r2c1Dim,green:r2c1Green,blue:r2c1Blue,orange:r2c1Orange}},
  {box:{l:207,t:405,w:170,h:212},z:[620,1130,15,650],p:{top:r2c2Top,bands:[r2c2Arch,r2c2Low],bar:[1060,615,1090,615],dim:r2c2Dim,green:r2c2Green,blue:r2c2Blue,orange:r2c2Orange,black:r2c2Black}},
  {box:{l:388,t:405,w:169,h:212},z:[25,530,15,650],p:{top:r2c3Top,bands:[r2c3Arch,r2c3Low,r2c3Low2,r2c3Low3],bar:[455,615,485,615],dim:r2c3Dim,green:r2c3Green,blue:r2c3Blue,orange:r2c3Orange}},
  {box:{l:558,t:405,w:192,h:212},z:[535,1110,15,650],p:{top:r2c4Top,bands:[r2c4Arch,r2c4Low],tau:r2c4Tau,tauColor:'rgba(235,130,190,.22)',tauW:4,bar:[1035,580,1065,580],dim:r2c4Dim,green:r2c4Green,blue:r2c4Blue,orange:r2c4Orange,black:r2c4Black,pink:r2c4Pink}},
];

const line = (x1:number,y1:number,x2:number,y2:number,c:string,w=1,k?:any) => <line key={k??`${x1}-${y1}-${x2}-${y2}`} x1={x1} y1={y1} x2={x2} y2={y2} stroke={c} strokeWidth={w}/>;

export default function App() {
  const major1=[0,500,1000], ticks1=[0,250,500,750,1000,1250], major3=[0,400,800,1200], ticks3=[0,200,400,600,800,1000,1200];
  return (
    <div style={{position:'absolute',left:0,top:0,width:757,height:1050,overflow:'hidden',background:'#fff',fontFamily:FONT}}>
      {/* grey header boxes */}
      <Box x0={395} x1={480} y0={23} y1={51} bg="#efefef"/>
      <Box x0={633} x1={728} y0={7} y1={25} bg="#efefef"/>
      <Box x0={15} x1={192} y0={182} y1={201} bg="#f0f0f0"/>
      <Box x0={201} x1={379} y0={182} y1={201} bg="#f0f0f0"/>
      <Box x0={383} x1={560} y0={182} y1={201} bg="#f0f0f0"/>
      <Box x0={565} x1={742} y0={182} y1={201} bg="#f0f0f0"/>

      {/* a */}
      <Plot box={{l:35,t:58,w:140,h:97}} make={()=>plainScatter(umapX0,umapX1,umapY0,umapY1,[dot(micro1,UG,1.5),dot(micro3,UO,1.5),dot(micro2,UB,1.5),dot(pairs(strayBlue),UB,1)])}/>
      <Plot box={smallBox(193,27)} make={smallUmap(true)}/>
      <Plot box={smallBox(284,27)} make={smallUmap(false)}/>
      <Plot box={smallBox(193,109)} make={smallUmap(true)}/>
      <Plot box={smallBox(284,109)} make={smallUmap(false)}/>

      {/* b */}
      <Plot box={{l:395,t:57,w:87,h:58}} make={()=>cone([dot(mic0,'#2471ae',1),dot(mic3,'#26c0c9',1),dot(mic2,'#e58ac8',1),dot(mic1,'#d7262b',1)])}/>
      <Plot box={{l:503,t:12,w:87,h:58}} make={()=>cone([dot([...mic1,...mic2,...mic3],'#d9d9d9',1.1),dot(mic0,'#2471ae',.9)])}/>
      <Plot box={{l:503,t:89,w:87,h:58}} make={()=>cone([dot([...mic0,...mic2,...mic3],'#d9d9d9',1.1),dot(mic1,'#d7262b',.85)])}/>

      {/* c */}
      <Plot box={area(641,27,86,134,20,16)} make={()=>heat(scaledFreq,scaledFreqCols,{xH:16,yW:20,pad:3,font:8.5,rot:0})}/>
      <Bar3 x={729} y={38} w={6} h={115}/>

      {/* d */}
      {sectionPanels.map((s,i)=><Plot key={i} box={s.box} make={section(s.z[0],s.z[1],s.z[2],s.z[3],s.p)}/>)}

      {/* e */}
      <Plot box={area(50,652,85,120,32,45)} make={()=>stack(distCats,e1Orange,e1Blue,e1Green,-70,1325,ticks1,major1,e1Stars,32,true,.92)}/>
      <Plot box={area(140,652,21,120,30,45)} make={()=>stack(overallCat,[e1Overall[0]],[e1Overall[1]],[e1Overall[2]],-70,1325,ticks1,major1,null,30,false,.72)}/>
      <Plot box={area(196,652,85,120,32,45)} make={()=>stack(distCats,e2Orange,e2Blue,e2Green,-72,1368,ticks1,major1,e2Stars,32,true,.92)}/>
      <Plot box={area(287,652,20,120,30,45)} make={()=>stack(overallCat,[e2Overall[0]],[e2Overall[1]],[e2Overall[2]],-72,1368,ticks1,major1,null,30,false,.75)}/>
      <Plot box={area(339,652,86,120,32,45)} make={()=>stack(distCats,e3Orange,e3Blue,e3Green,-79,1333,ticks3,major3,e3Stars,32,true,.92)}/>
      <Plot box={area(430,652,19,120,30,45)} make={()=>stack(overallCat,[e3Overall[0]],[e3Overall[1]],[e3Overall[2]],-79,1333,ticks3,major3,null,30,false,.78)}/>

      {/* h */}
      <Plot box={area(673,642,72,146,215,20)} make={()=>hbar(goTerms,goValues,'#fb7570',15.4,0,[0,5,10,15],{xH:20,yW:215,pad:5,font:9.3,bar:.88,tick:10})}/>

      {/* f */}
      <Plot box={area(35,851,163,133,25,20)} make={()=>volcano(f1Red,f1Blue,f1Green,f1Genes,-1.01,1,-1.8,46,[0,10,20,30,40])}/>
      <Plot box={area(231,851,166,133,25,20)} make={()=>volcano(f2Red,f2Blue,f2Green,f2Genes,-1.24,1.23,-2,51.5,[0,10,20,30,40,50])}/>

      {/* g */}
      <Plot box={area(409,836,72,152,20,45)} make={()=>heat(gRep1,plaqueCats,{xH:45,yW:20,pad:12,font:9.5,rot:45,frame:'#6b6b6b'})}/>
      <Plot box={area(483,836,73,152,20,45)} make={()=>heat(gRep2,plaqueCats,{xH:45,yW:20,pad:12,font:9.5,rot:45,frame:'#6b6b6b'})}/>
      <Box x0={409} x1={481} y0={992} y1={998} bg="#f5f53d"/>
      <Box x0={483} x1={556} y0={992} y1={998} bg="#e012d8"/>
      <Bar3 x={579} y={1012} w={5} h={26}/>

      {/* i */}
      <Plot box={area(645,825,94,67,40,18)} make={()=>hbar(mmOrder,mmValues,'#0b0b7d',7.34,-.08,[0,2,4,6],{xH:18,yW:40,pad:6,bar:.84,tick:9.5,axis:true})}/>

      {/* j */}
      <Plot box={area(643,924,94,69,40,30)} make={()=>heat(mmHeat,plaqueCats,{xH:30,yW:40,pad:3,font:9.5,rot:45,rows:mmRows,cell:'#777',frame:'#666'})}/>
      <Bar3 x={741} y={996} w={5} h={27}/>

      {/* lines */}
      <svg width={757} height={1050} style={{position:'absolute',left:0,top:0,pointerEvents:'none'}}>
        {line(25,155,25,116,'#222')}{line(25,155,67,155,'#222')}
        <polygon points="25,112 22.5,118 27.5,118" fill="#222"/><polygon points="71,155 65,152.5 65,157.5" fill="#222"/>
        <polyline points="144,65 144,77 122,82" fill="none" stroke="#c8324a" strokeWidth={1}/>
        {line(389,128,389,93,'#222')}{line(389,128,424,128,'#222')}
        <polygon points="389,89 386.8,94 391.2,94" fill="#222"/><polygon points="428,128 423,125.8 423,130.2" fill="#222"/>
        {line(481,83,489,83,'#555')}{line(489,38,489,131,'#555')}{line(489,38,497,38,'#555')}{line(489,131,497,131,'#555')}
        <rect x={500} y={88} width={104} height={84} fill="none" stroke="#f5e96a" strokeWidth={1.5}/>
        <rect x={698} y={27} width={29.5} height={146} fill="none" stroke="#f3e35a" strokeWidth={1.3}/>
        <rect x={628} y={71.5} width={99.5} height={45} fill="none" stroke="#f3e35a" strokeWidth={1.3}/>
        {gGeneFrom.map((f,i)=>line(400+468/3,810+f/3,400+498/3,810+gGeneTo[i]/3,'#777',.8,i))}
      </svg>

      {/* d legend */}
      <div style={{position:'absolute',left:20,top:213,width:59,height:56,background:'#fff',border:'1.5px solid #666'}}/>
      {[['Micro1','#39d353'],['Micro2','#2f6fdc'],['Micro3','#f47a3c'],['Aß-plaque','#000'],['p-Tau','#e0279a']].map(([t,c],i)=>(
        <React.Fragment key={t}><Dot x={28} y={221+i*10.1} c={c} d={5}/><T x={33.5} y={221+i*10.1} a="left" s={9.2}>{t}</T></React.Fragment>
      ))}

      {/* panel letters */}
      {[['a',5,8],['b',376,8],['c',605,8],['d',5,180],['e',5,637],['f',5,820],['g',400,820],['h',467,637],['i',609,820],['j',609,918]].map(([t,x,y]:any)=><T key={t} x={x} y={y} s={12} b>{t}</T>)}

      {/* a text */}
      <Dot x={28} y={23} c={UG}/><Dot x={28} y={36} c={UB}/><Dot x={28} y={48} c={UO}/>
      <T x={35} y={23} a="left" s={10.5}>Micro1</T><T x={35} y={36} a="left" s={10.5}>Micro2</T><T x={35} y={48} a="left" s={10.5}>Micro3</T>
      <T x={135} y={22} s={12}>Microglia</T>
      <T x={142} y={46} s={10} c="#c8324a">Disease-associated</T><T x={142} y={57} s={10} c="#c8324a">microglia</T>
      <T x={17} y={135} s={10.5} r={-90}>UMAP2</T><T x={47} y={164} s={10.5}>UMAP1</T>
      <T x={234} y={19} s={10}>Control 8mo</T><T x={326} y={19} s={10}>TauPS2APP 8mo</T>
      <T x={234} y={98} s={10}>Control 13mo</T><T x={325} y={98} s={10}>TauPS2APP 13mo</T>

      {/* b text */}
      <T x={398} y={32} a="left" s={8.1}>Predicted label from</T><T x={400} y={42} a="left" s={8.1}>Mathys et al. (2019)</T>
      <T x={382} y={110} s={8} b r={-90}>DC 2</T><T x={407} y={135} s={8} b>DC 1</T>
      <Dot x={410} y={150} c="#2471ae"/><T x={416} y={150} a="left" s={9.5}>Mic0</T>
      <Dot x={448} y={150} c="#d7262b"/><T x={454} y={150} a="left" s={9.5}>Mic1</T>
      <Dot x={410} y={163} c="#e58ac8"/><T x={416} y={163} a="left" s={9.5}>Mic2</T>
      <Dot x={448} y={163} c="#26c0c9"/><T x={454} y={163} a="left" s={9.5}>Mic3</T>
      <T x={546} y={70} s={9.5}>Mic0</T>
      <T x={551} y={153} s={8.9}>AD-pathology-associated</T><T x={551} y={163} s={8.9}>microglia</T>

      {/* c text */}
      <T x={680} y={16} s={10}>Scaled frequency</T>
      <T x={622} y={92} s={8.4} r={-90}>Predicted label from Mathys et al. (2019)</T>
      <T x={634} y={49} s={8.8} r={-90}>Mic0</T><T x={634} y={94} s={8.8} r={-90}>Mic1</T><T x={634} y={138} s={8.8} r={-90}>Mic2</T>
      <T x={737} y={38} a="left" s={8.8}>2.0</T><T x={736} y={152} a="left" s={8.8}>−2.0</T>

      {/* d text */}
      <T x={103} y={191} s={10}>Control 8mo</T><T x={290} y={191} s={10}>TauPS2APP 8mo</T><T x={471} y={191} s={10}>Control 13mo</T><T x={653} y={191} s={10}>TauPS2APP 13mo</T>

      {/* e text */}
      <T x={105} y={637} s={10}>TauPS2APP 8mo</T><T x={251} y={637} s={10}>Cortex</T><T x={394} y={637} s={10}>Hippocampus</T>
      <T x={15} y={713} s={10.5} r={-90}># cells per mm²</T><T x={251} y={804} s={10.5}>Distance to plaque (µm)</T>

      {/* h text */}
      <T x={620} y={634} s={9.2}>GO:BP Enrichment</T>
      <T x={712} y={806} s={9.5}>-log<sub style={{fontSize:6}}>10</sub>(p-value)</T>

      {/* f text */}
      <T x={117} y={828} s={9.5}>TauPS2APP 8mo</T><T x={294} y={828} s={9.5}>TauPS2APP 13mo</T>
      <T x={117} y={1017} s={9.5}>ln(Fold Change)</T><T x={315} y={1017} s={9.5}>ln(Fold Change)</T>
      <T x={16} y={913} s={9.5} r={-90}>-log10P</T><T x={208} y={913} s={9.5} r={-90}>-log10P</T>

      {/* g text */}
      <T x={474} y={828} s={9.2}>TauPS2APP 13mo</T>
      {gGenes.map((g,i)=><T key={g} x={568} y={810+gGeneTo[i]/3} a="left" s={9.5} i>{g}</T>)}
      <T x={479} y={1030} s={10}>Distance to plaque (µm)</T>
      <Box x0={446} x1={453} y0={1041} y1={1048} bg="#f5f53d"/><T x={454} y={1044} a="left" s={9.5}>Rep1</T>
      <Box x0={481} x1={487} y0={1041} y1={1048} bg="#e012d8"/><T x={489} y={1044} a="left" s={9.5}>Rep2</T>
      <T x={589} y={1015} a="left" s={9.5}>2</T><T x={586} y={1037} a="left" s={9.5}>-2</T>

      {/* i, j text */}
      <T x={687} y={910} s={9.5}>-log<sub style={{fontSize:6}}>10</sub>(p-value)</T>
      <T x={680} y={1024} s={9.8}>Distance to plaque (µm)</T>
      <T x={750} y={999} a="left" s={9.5}>2</T><T x={747} y={1022} a="left" s={9.5}>-2</T>
    </div>
  );
}
